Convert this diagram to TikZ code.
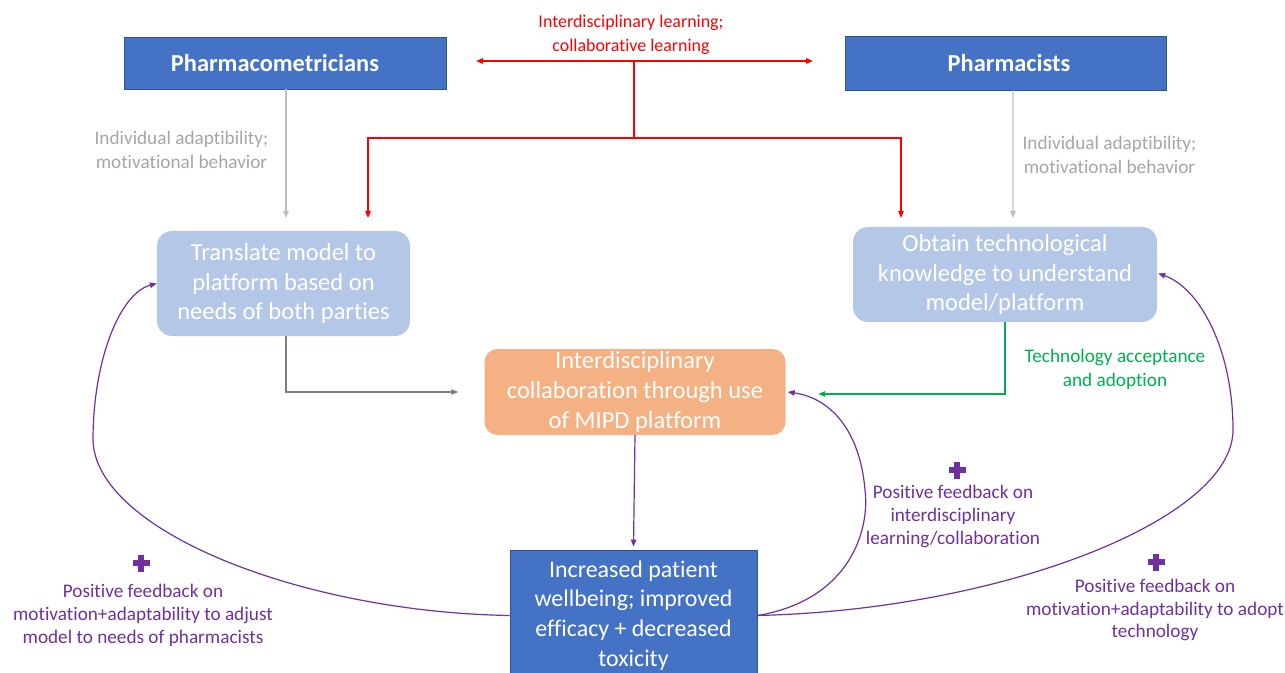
\documentclass[tikz,border=0pt]{standalone}
\usepackage{fontspec}
\setmainfont{Carlito}[Ligatures=NoCommon]
\usetikzlibrary{arrows.meta}

\definecolor{boxblue}{HTML}{4472C4}
\definecolor{boxedge}{HTML}{2F528F}
\definecolor{paleblue}{HTML}{B4C7E7}
\definecolor{peach}{HTML}{F4B183}
\definecolor{linkred}{HTML}{FF0000}
\definecolor{softgray}{HTML}{BFBFBF}
\definecolor{textgray}{HTML}{A6A6A6}
\definecolor{darkgray}{HTML}{7F7F7F}
\definecolor{accgreen}{HTML}{00B050}
\definecolor{loopviolet}{HTML}{7030A0}

\begin{document}
\begin{tikzpicture}[x=1bp,y=-1bp,
  every node/.style={inner sep=0pt, align=center},
  rolebox/.style={fill=boxblue, draw=boxedge, line width=0.8bp, text=white,
    font=\fontsize{24.5}{28}\selectfont\bfseries},
  taskbox/.style={fill=paleblue, rounded corners=15bp, text=white,
    font=\fontsize{24.6}{30}\selectfont},
  hubbox/.style={fill=peach, rounded corners=13bp, text=white,
    font=\fontsize{24.6}{30}\selectfont},
  outcomebox/.style={fill=boxblue, draw=boxedge, line width=0.8bp, text=white,
    font=\fontsize{24}{30}\selectfont},
  smalllabel/.style={font=\fontsize{19.3}{24}\selectfont},
  looplabel/.style={font=\fontsize{19.3}{23}\selectfont, text=loopviolet},
  tip/.style={-{Triangle[length=7bp,width=5.5bp]}},
  conn/.style={line width=1.2bp},
  plusmark/.pic={
    \fill[loopviolet] (-8.5,-2.8) rectangle (8.5,2.8);
    \fill[loopviolet] (-2.8,-8.5) rectangle (2.8,8.5);
  }
]
\useasboundingbox (0,0) rectangle (1285,673);
\clip (0,0) rectangle (1285,673);
\fill[white] (0,0) rectangle (1285,673);

% stakeholder boxes
\node[rolebox, minimum width=322bp, minimum height=52bp] (pm) at (285,63) {};
\node[rolebox, minimum width=321bp, minimum height=54bp] (ph) at (1005.5,63) {};
\node[rolebox, draw=none, fill=none] (pmtext) at (275,63) {Pharmacometricians};
\node[rolebox, draw=none, fill=none] (phtext) at (1009,63) {Pharmacists};

% task boxes
\node[taskbox, minimum width=253bp, minimum height=105bp] (trans) at (283.5,283.5)
  {Translate model to\\platform based on\\needs of both parties};
\node[taskbox, minimum width=304bp, minimum height=95bp] (obt) at (1005,274.5)
  {Obtain technological\\knowledge to understand\\model/platform};

% shared platform and outcome
\node[hubbox, minimum width=301bp, minimum height=86bp] (mipd) at (635,392)
  {Interdisciplinary\\collaboration through use\\of MIPD platform};
\node[outcomebox, minimum width=247bp, minimum height=131bp] (out) at (633.5,615.5)
  {Increased patient\\wellbeing; improved\\efficacy + decreased\\toxicity};

% mutual learning between the two groups
\coordinate (rl) at (476,61);
\coordinate (rr) at (813,61);
\coordinate (rmid) at (634,61);
\coordinate (rjoin) at (634,138);
\coordinate (rtoT) at (368,218);
\coordinate (rtoO) at (901,218);
\draw[conn, linkred, {Triangle[length=7bp,width=5.5bp]}-{Triangle[length=7bp,width=5.5bp]}] (rl) -- (rr);
\draw[conn, linkred] (rmid) -- (rjoin);
\draw[conn, linkred, tip] (rjoin) -| (rtoT);
\draw[conn, linkred, tip] (rjoin) -| (rtoO);
\node[text=linkred, font=\fontsize{18}{24}\selectfont] (rlab) at (631,35)
  {Interdisciplinary learning;\\collaborative learning};

% individual drivers
\coordinate (gL) at (286,218);
\coordinate (gR) at (1013,218);
\draw[conn, softgray, tip] ([xshift=1bp]pm.south) -- (gL);
\draw[conn, softgray, tip] ([xshift=7.5bp]ph.south) -- (gR);
\node[smalllabel, text=textgray] (gLlab) at (181.5,150)
  {Individual adaptibility;\\motivational behavior};
\node[smalllabel, text=textgray] (gRlab) at (1109.5,154.5)
  {Individual adaptibility;\\motivational behavior};

% inputs to the platform
\draw[conn, darkgray, tip] ([xshift=2.5bp]trans.south) |- ([xshift=-26bp]mipd.west);
\draw[conn, accgreen, tip] (obt.south) |- ([xshift=32.5bp, yshift=-2bp]mipd.east);
\node[smalllabel, text=accgreen] (glab) at (1115,369)
  {Technology acceptance\\and adoption};

% platform to outcome
\draw[conn, loopviolet, tip] (mipd.south) -- ([yshift=3bp]out.north);

% feedback loops
\draw[conn, loopviolet, tip] (out.west)
  .. controls (300,612) and (95,530) .. (93,440)
  .. controls (93,360) and (120,293) .. (trans.west);
\draw[conn, loopviolet, tip] (out.east)
  .. controls (850,600) and (870,530) .. (865,490)
  .. controls (860,430) and (830,398) .. ([xshift=2bp]mipd.east);
\draw[conn, loopviolet, tip] (out.east)
  .. controls (1000,610) and (1233,520) .. (1233,430)
  .. controls (1233,350) and (1200,288) .. ([xshift=1bp,yshift=1bp]obt.east);

\pic at (141,563) {plusmark};
\pic at (957,470) {plusmark};
\pic at (1156,562) {plusmark};
\node[looplabel] (fbL) at (143,615)
  {Positive feedback on\\motivation+adaptability to adjust\\model to needs of pharmacists};
\node[looplabel] (fbM) at (953,516.5)
  {Positive feedback on\\interdisciplinary\\learning/collaboration};
\node[looplabel] (fbR) at (1155,610)
  {Positive feedback on\\motivation+adaptability to adopt\\technology};
\end{tikzpicture}
\end{document}
